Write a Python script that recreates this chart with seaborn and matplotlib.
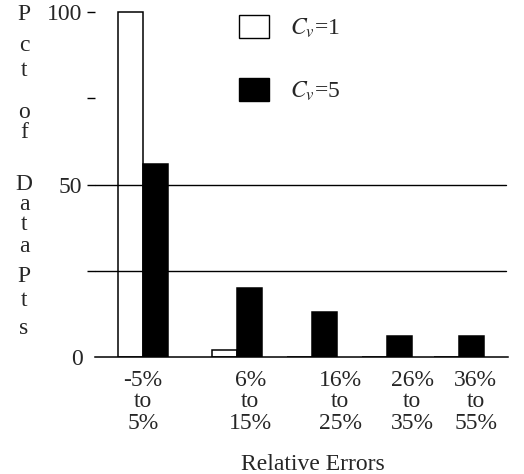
import matplotlib
matplotlib.use("Agg")
import matplotlib.pyplot as plt
import seaborn as sns
import pandas as pd

# Error bins and the share of data points falling in each
categories = ["-5%\nto\n5%", "6%\nto\n15%", "16%\nto\n25%", "26%\nto\n35%", "36%\nto\n55%"]
cv1_pct = [100, 2, 0, 0, 0]
cv5_pct = [56, 20, 13, 6, 6]
series_labels = [r"$C_v$=1", r"$C_v$=5"]

# Layout: group centres along the x axis and where each bin label sits
group_x = [0, 1.25, 2.25, 3.25, 4.22]
label_x = [0, 1.43, 2.63, 3.59, 4.44]

rows = []
for cat, gx, a, b in zip(categories, group_x, cv1_pct, cv5_pct):
    rows.append({"bin": cat, "pos": gx, "pct": a, "series": series_labels[0]})
    rows.append({"bin": cat, "pos": gx, "pct": b, "series": series_labels[1]})
df = pd.DataFrame(rows)

sns.set_theme(style="white")
plt.rcParams["font.family"] = ["Liberation Serif", "DejaVu Serif"]
plt.rcParams["mathtext.fontset"] = "stix"

W, H = 524, 474
fig = plt.figure(figsize=(W / 100, H / 100), dpi=100)
ax = fig.add_axes([95 / W, 1 - 357 / H, (508 - 95) / W, (357 - 11) / H])

sns.barplot(
    data=df, x="pos", y="pct", hue="series", hue_order=series_labels,
    palette={series_labels[0]: "white", series_labels[1]: "black"},
    native_scale=True, width=0.687, edgecolor="black", linewidth=1.1,
    errorbar=None, ax=ax,
)

ax.set_xlim(-0.64, 4.87)
ax.set_ylim(0, 100.3)

# Horizontal reference lines at 25 and 50
for yv in (25, 50):
    ax.axhline(yv, xmin=0, xmax=0.995, color="black", lw=1.0, zorder=5)

for side in ("top", "right", "left"):
    ax.spines[side].set_visible(False)
ax.spines["bottom"].set_color("black")
ax.spines["bottom"].set_linewidth(1.1)

ax.set_yticks([0, 50, 100], labels=["0", "50", "100"])
ax.set_yticks([25, 75], minor=True)
ax.tick_params(axis="y", which="both", left=True, length=6, width=1.0,
               color="black", direction="out", pad=3, labelsize=17)
ax.yaxis.get_major_ticks()[0].tick1line.set_visible(False)

ax.set_xticks(label_x, labels=categories)
ax.tick_params(axis="x", length=0, pad=9, labelsize=17)
for t in ax.get_xticklabels():
    t.set_linespacing(1.05)

ax.set_ylabel("")
ax.set_xlabel("Relative Errors", fontsize=17)
ax.xaxis.set_label_coords((313 - 95) / (508 - 95), -0.28)

# Vertical, letter-stacked y-axis title
letters = ["P", "c", "t", "o", "f", "D", "a", "t", "a", "P", "t", "s"]
letter_y = [15, 45, 70, 112, 133, 185, 205, 225, 246, 276, 300, 328]
for ch, yp in zip(letters, letter_y):
    fig.text(24 / W, 1 - yp / H, ch, fontsize=17, ha="center", va="center")

leg = ax.legend(
    loc="upper left", bbox_to_anchor=(239 / W, 1 - 15 / H),
    bbox_transform=fig.transFigure, frameon=False, fontsize=17,
    handlelength=1.27, handleheight=1.1, handletextpad=0.9,
    labelspacing=1.62, borderpad=0, borderaxespad=0,
)
for h in leg.legend_handles:
    h.set_edgecolor("black")
    h.set_linewidth(1.0)

fig.savefig("out.png", dpi=100, facecolor="white")
